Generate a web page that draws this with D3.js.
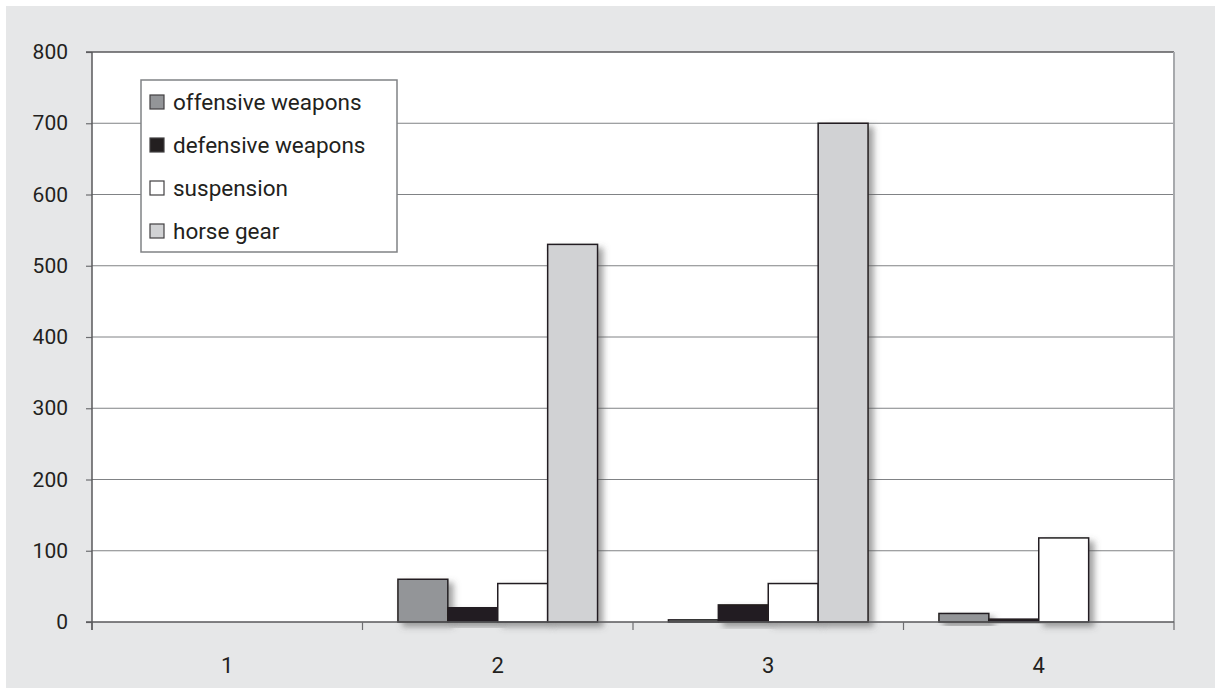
<!DOCTYPE html>
<html>
<head>
<meta charset="utf-8">
<script src="https://cdn.jsdelivr.net/npm/d3@7"></script>
<style>
  body { margin: 0; background: #fff; }
  svg text { font-family: "Liberation Sans Narrow", "Arial Narrow", Roboto, sans-serif; fill: #231f20; }
</style>
</head>
<body>
<div id="chart"></div>
<script>
// data
const categories = ['1', '2', '3', '4']
const seriesNames = ['offensive weapons', 'defensive weapons', 'suspension', 'horse gear']
const offensive = [0, 60, 3, 12]
const defensive = [0, 20, 24, 4]
const suspension = [0, 54, 54, 118]
const horseGear = [0, 530, 700, 0]
const yTicks = [0, 100, 200, 300, 400, 500, 600, 700, 800]

const colors = ['#939598', '#231f20', '#ffffff', '#d1d2d4']
const series = [offensive, defensive, suspension, horseGear]

const W = 1215, H = 690
const margin = { left: 92, right: 41, top: 52, bottom: 68 }

let svg = d3.select('#chart').append('svg')
    .attr('width', W)
    .attr('height', H)

// drop shadow for the bars
let defs = svg.append('defs')
defs.append('filter')
    .attr('id', 'shadow')
    .attr('x', '-20%').attr('y', '-20%')
    .attr('width', '160%').attr('height', '160%')
  .append('feDropShadow')
    .attr('dx', 5).attr('dy', 4)
    .attr('stdDeviation', 3)
    .attr('flood-color', '#555')
    .attr('flood-opacity', 0.55)

// grey panel
svg.append('rect')
    .attr('x', 6).attr('y', 6)
    .attr('width', W - 6).attr('height', H - 8)
    .attr('fill', '#e6e7e8')

let x0 = d3.scaleBand()
    .domain(categories)
    .range([margin.left, W - margin.right])
let x1 = d3.scaleBand()
    .domain(seriesNames)
    .range([0, x0.bandwidth()])
    .paddingOuter(0.71)
let y = d3.scaleLinear()
    .domain([0, 800])
    .range([H - margin.bottom, margin.top])

// plot area
svg.append('rect')
    .attr('x', margin.left).attr('y', margin.top)
    .attr('width', W - margin.left - margin.right)
    .attr('height', y(0) - margin.top)
    .attr('fill', '#fff')

// gridlines + y ticks
let yAxis = svg.append('g')
    .attr('transform', `translate(${margin.left},0)`)
    .call(d3.axisLeft(y).tickValues(yTicks).tickSize(6).tickPadding(18))
yAxis.select('.domain').remove()
yAxis.selectAll('.tick line').attr('stroke', '#6d6e71').attr('stroke-width', 1.2)
yAxis.selectAll('.tick text').attr('font-size', 21).attr('fill', '#231f20')

svg.append('g')
    .selectAll('line')
    .data(yTicks.filter(d => d > 0 && d < 800))
    .join('line')
    .attr('x1', margin.left).attr('x2', W - margin.right)
    .attr('y1', d => y(d)).attr('y2', d => y(d))
    .attr('stroke', '#808285')
    .attr('stroke-width', 1)

// frame: top dark, right grey
svg.append('line')
    .attr('x1', margin.left - 6).attr('x2', W - margin.right)
    .attr('y1', y(800)).attr('y2', y(800))
    .attr('stroke', '#58595b').attr('stroke-width', 1.5)
svg.append('line')
    .attr('x1', W - margin.right).attr('x2', W - margin.right)
    .attr('y1', y(800)).attr('y2', y(0))
    .attr('stroke', '#a7a9ac').attr('stroke-width', 2)

// bars
let groups = svg.append('g')
    .selectAll('g')
    .data(categories)
    .join('g')
    .attr('transform', d => `translate(${x0(d)},0)`)

groups.selectAll('rect')
    .data((d, i) => seriesNames.map((s, j) => ({ s, j, v: series[j][i] })))
    .join('rect')
    .filter(d => d.v > 0)
    .attr('x', d => x1(d.s))
    .attr('y', d => y(d.v))
    .attr('width', x1.bandwidth())
    .attr('height', d => y(0) - y(d.v))
    .attr('fill', d => colors[d.j])
    .attr('stroke', '#231f20')
    .attr('stroke-width', 1.5)
    .attr('filter', 'url(#shadow)')

// x axis
let xAxis = svg.append('g')
    .attr('transform', `translate(0,${y(0)})`)
xAxis.append('line')
    .attr('x1', margin.left - 6).attr('x2', W - margin.right)
    .attr('stroke', '#58595b').attr('stroke-width', 1.5)
xAxis.selectAll('.sep')
    .data(categories.map(c => x0(c)).concat([x0(categories[3]) + x0.bandwidth()]))
    .join('line')
    .attr('class', 'sep')
    .attr('x1', d => d).attr('x2', d => d)
    .attr('y1', 0).attr('y2', 8)
    .attr('stroke', '#6d6e71').attr('stroke-width', 1.2)
xAxis.selectAll('text')
    .data(categories)
    .join('text')
    .attr('x', d => x0(d) + x0.bandwidth() / 2)
    .attr('y', 51)
    .attr('text-anchor', 'middle')
    .attr('font-size', 22)
    .text(d => d)

// left axis line
svg.append('line')
    .attr('x1', margin.left).attr('x2', margin.left)
    .attr('y1', y(800)).attr('y2', y(0) + 8)
    .attr('stroke', '#58595b').attr('stroke-width', 1.5)

// legend
let legend = svg.append('g').attr('transform', 'translate(141,80)')
legend.append('rect')
    .attr('width', 256).attr('height', 172)
    .attr('fill', '#fff')
    .attr('stroke', '#808285').attr('stroke-width', 1.5)
let item = legend.selectAll('.item')
    .data(seriesNames)
    .join('g')
    .attr('class', 'item')
    .attr('transform', (d, i) => `translate(0,${22 + i * 43})`)
item.append('rect')
    .attr('x', 9).attr('y', -7)
    .attr('width', 14).attr('height', 14)
    .attr('fill', (d, i) => colors[i])
    .attr('stroke', '#414042').attr('stroke-width', 1.2)
item.append('text')
    .attr('x', 32).attr('y', 0)
    .attr('dy', '0.35em')
    .attr('font-size', 22.5)
    .text(d => d)
</script>
</body>
</html>
